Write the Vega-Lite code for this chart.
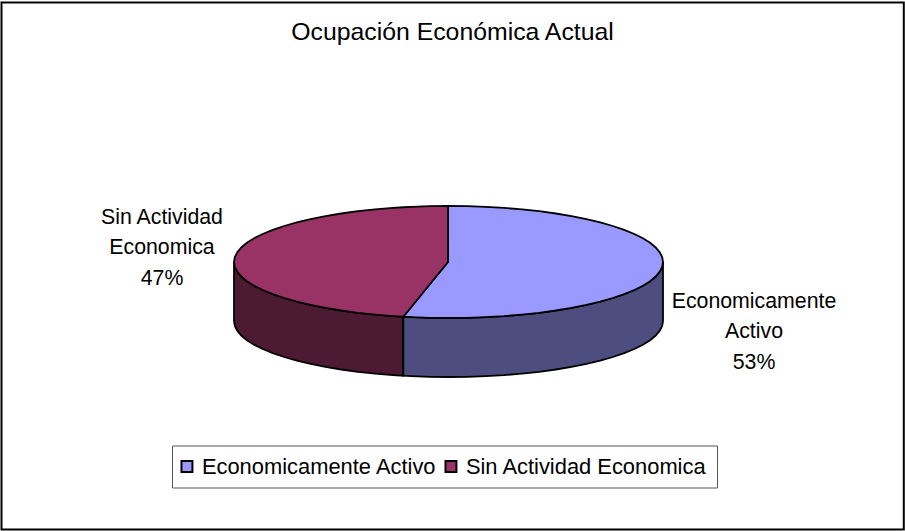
{"$schema":"https://vega.github.io/schema/vega-lite/v6.json","width":905,"height":531,"padding":0,"autosize":{"type":"none"},"background":"white","config":{"view":{"stroke":null},"font":"Liberation Sans"},"title":{"text":"Ocupación Económica Actual","anchor":"middle","orient":"top","offset":-45,"fontSize":24.8,"fontWeight":"normal","font":"Liberation Sans","color":"#000000"},"datasets":{"frame":[{"x":1.5,"x2":903.8,"y":2.5,"y2":529.5}],"top":[{"slice":"Economicamente Activo","x":403.3,"y":316.75,"y2":316.75},{"slice":"Economicamente Activo","x":411.3,"y":306.95,"y2":317.1},{"slice":"Economicamente Activo","x":429.8,"y":284.3,"y2":317.8},{"slice":"Economicamente Activo","x":448,"y":262,"y2":318},{"slice":"Economicamente Activo","x":448.1,"y":206,"y2":318},{"slice":"Economicamente Activo","x":467.2,"y":206.2,"y2":317.8},{"slice":"Economicamente Activo","x":485.7,"y":206.9,"y2":317.1},{"slice":"Economicamente Activo","x":504,"y":207.9,"y2":316.1},{"slice":"Economicamente Activo","x":521.9,"y":209.4,"y2":314.6},{"slice":"Economicamente Activo","x":539.1,"y":211.2,"y2":312.8},{"slice":"Economicamente Activo","x":555.8,"y":213.5,"y2":310.5},{"slice":"Economicamente Activo","x":571.5,"y":216.1,"y2":307.9},{"slice":"Economicamente Activo","x":586.4,"y":219.1,"y2":304.9},{"slice":"Economicamente Activo","x":600.2,"y":222.4,"y2":301.6},{"slice":"Economicamente Activo","x":612.8,"y":226,"y2":298},{"slice":"Economicamente Activo","x":624.2,"y":229.9,"y2":294.1},{"slice":"Economicamente Activo","x":634.3,"y":234,"y2":290},{"slice":"Economicamente Activo","x":642.9,"y":238.3,"y2":285.7},{"slice":"Economicamente Activo","x":650.1,"y":242.8,"y2":281.2},{"slice":"Economicamente Activo","x":655.7,"y":247.5,"y2":276.5},{"slice":"Economicamente Activo","x":659.7,"y":252.3,"y2":271.7},{"slice":"Economicamente Activo","x":662.2,"y":257.1,"y2":266.9},{"slice":"Economicamente Activo","x":663,"y":262,"y2":262},{"slice":"Sin Actividad Economica","x":234,"y":262,"y2":262},{"slice":"Sin Actividad Economica","x":234.8,"y":257.1,"y2":266.9},{"slice":"Sin Actividad Economica","x":237.3,"y":252.3,"y2":271.7},{"slice":"Sin Actividad Economica","x":241.3,"y":247.5,"y2":276.5},{"slice":"Sin Actividad Economica","x":246.9,"y":242.8,"y2":281.2},{"slice":"Sin Actividad Economica","x":254.1,"y":238.3,"y2":285.7},{"slice":"Sin Actividad Economica","x":262.7,"y":234,"y2":290},{"slice":"Sin Actividad Economica","x":272.8,"y":229.9,"y2":294.1},{"slice":"Sin Actividad Economica","x":284.2,"y":226,"y2":298},{"slice":"Sin Actividad Economica","x":296.8,"y":222.4,"y2":301.6},{"slice":"Sin Actividad Economica","x":310.6,"y":219.1,"y2":304.9},{"slice":"Sin Actividad Economica","x":325.5,"y":216.1,"y2":307.9},{"slice":"Sin Actividad Economica","x":341.2,"y":213.5,"y2":310.5},{"slice":"Sin Actividad Economica","x":357.9,"y":211.2,"y2":312.8},{"slice":"Sin Actividad Economica","x":375.1,"y":209.4,"y2":314.6},{"slice":"Sin Actividad Economica","x":393,"y":207.9,"y2":316.1},{"slice":"Sin Actividad Economica","x":403.3,"y":207.25,"y2":316.75},{"slice":"Sin Actividad Economica","x":411.3,"y":206.9,"y2":306.95},{"slice":"Sin Actividad Economica","x":429.8,"y":206.2,"y2":284.3},{"slice":"Sin Actividad Economica","x":448,"y":206,"y2":262}],"side":[{"slice":"Sin Actividad Economica","x":234,"y":262,"y2":321},{"slice":"Sin Actividad Economica","x":234.8,"y":266.9,"y2":325.9},{"slice":"Sin Actividad Economica","x":237.3,"y":271.7,"y2":330.7},{"slice":"Sin Actividad Economica","x":241.3,"y":276.5,"y2":335.5},{"slice":"Sin Actividad Economica","x":246.9,"y":281.2,"y2":340.2},{"slice":"Sin Actividad Economica","x":254.1,"y":285.7,"y2":344.7},{"slice":"Sin Actividad Economica","x":262.7,"y":290,"y2":349},{"slice":"Sin Actividad Economica","x":272.8,"y":294.1,"y2":353.1},{"slice":"Sin Actividad Economica","x":284.2,"y":298,"y2":357},{"slice":"Sin Actividad Economica","x":296.8,"y":301.6,"y2":360.6},{"slice":"Sin Actividad Economica","x":310.6,"y":304.9,"y2":363.9},{"slice":"Sin Actividad Economica","x":325.5,"y":307.9,"y2":366.9},{"slice":"Sin Actividad Economica","x":341.2,"y":310.5,"y2":369.5},{"slice":"Sin Actividad Economica","x":357.9,"y":312.8,"y2":371.8},{"slice":"Sin Actividad Economica","x":375.1,"y":314.6,"y2":373.6},{"slice":"Sin Actividad Economica","x":393,"y":316.1,"y2":375.1},{"slice":"Sin Actividad Economica","x":403.3,"y":316.75,"y2":375.75},{"slice":"Economicamente Activo","x":403.3,"y":316.75,"y2":375.75},{"slice":"Economicamente Activo","x":411.3,"y":317.1,"y2":376.1},{"slice":"Economicamente Activo","x":429.8,"y":317.8,"y2":376.8},{"slice":"Economicamente Activo","x":448.5,"y":318,"y2":377},{"slice":"Economicamente Activo","x":467.2,"y":317.8,"y2":376.8},{"slice":"Economicamente Activo","x":485.7,"y":317.1,"y2":376.1},{"slice":"Economicamente Activo","x":504,"y":316.1,"y2":375.1},{"slice":"Economicamente Activo","x":521.9,"y":314.6,"y2":373.6},{"slice":"Economicamente Activo","x":539.1,"y":312.8,"y2":371.8},{"slice":"Economicamente Activo","x":555.8,"y":310.5,"y2":369.5},{"slice":"Economicamente Activo","x":571.5,"y":307.9,"y2":366.9},{"slice":"Economicamente Activo","x":586.4,"y":304.9,"y2":363.9},{"slice":"Economicamente Activo","x":600.2,"y":301.6,"y2":360.6},{"slice":"Economicamente Activo","x":612.8,"y":298,"y2":357},{"slice":"Economicamente Activo","x":624.2,"y":294.1,"y2":353.1},{"slice":"Economicamente Activo","x":634.3,"y":290,"y2":349},{"slice":"Economicamente Activo","x":642.9,"y":285.7,"y2":344.7},{"slice":"Economicamente Activo","x":650.1,"y":281.2,"y2":340.2},{"slice":"Economicamente Activo","x":655.7,"y":276.5,"y2":335.5},{"slice":"Economicamente Activo","x":659.7,"y":271.7,"y2":330.7},{"slice":"Economicamente Activo","x":662.2,"y":266.9,"y2":325.9},{"slice":"Economicamente Activo","x":663,"y":262,"y2":321}],"labels":[{"label":"Sin Actividad\nEconomica\n47%","x":162,"y":218},{"label":"Economicamente\nActivo\n53%","x":754,"y":302}]},"layer":[{"data":{"name":"frame"},"mark":{"type":"rect","fill":"white","stroke":"black","strokeWidth":2},"encoding":{"x":{"field":"x","type":"quantitative","scale":{"domain":[0,905],"nice":false,"zero":false},"axis":null},"x2":{"field":"x2"},"y":{"field":"y","type":"quantitative","scale":{"domain":[531,0],"nice":false,"zero":false},"axis":null},"y2":{"field":"y2"}}},{"data":{"name":"side"},"transform":[{"filter":"datum.slice === 'Sin Actividad Economica'"}],"mark":{"type":"area","fill":"#4D1A33","stroke":"black","strokeWidth":1.8},"encoding":{"x":{"field":"x","type":"quantitative"},"y":{"field":"y","type":"quantitative","stack":null},"y2":{"field":"y2"}}},{"data":{"name":"side"},"transform":[{"filter":"datum.slice === 'Economicamente Activo'"}],"mark":{"type":"area","fill":"#4D4D80","stroke":"black","strokeWidth":1.8},"encoding":{"x":{"field":"x","type":"quantitative"},"y":{"field":"y","type":"quantitative","stack":null},"y2":{"field":"y2"}}},{"data":{"name":"top"},"mark":{"type":"area","stroke":"black","strokeWidth":1.8,"opacity":1},"encoding":{"x":{"field":"x","type":"quantitative"},"y":{"field":"y","type":"quantitative","stack":null},"y2":{"field":"y2"},"color":{"field":"slice","type":"nominal","scale":{"domain":["Economicamente Activo","Sin Actividad Economica"],"range":["#9999FF","#993366"]},"legend":{"orient":"none","legendX":172,"legendY":445.5,"direction":"horizontal","title":null,"strokeColor":"#555555","fillColor":"white","padding":10,"labelFontSize":21.9,"labelFont":"Liberation Sans","labelColor":"black","labelLimit":400,"symbolType":"square","symbolSize":120,"symbolStrokeColor":"black","symbolStrokeWidth":2,"symbolOpacity":1,"columnPadding":4,"symbolOffset":-6,"labelOffset":4}}}},{"data":{"name":"labels"},"mark":{"type":"text","font":"Liberation Sans","fontSize":21.3,"align":"center","baseline":"middle","lineBreak":"\n","lineHeight":30.3,"color":"black"},"encoding":{"x":{"field":"x","type":"quantitative"},"y":{"field":"y","type":"quantitative"},"text":{"field":"label"}}}]}
